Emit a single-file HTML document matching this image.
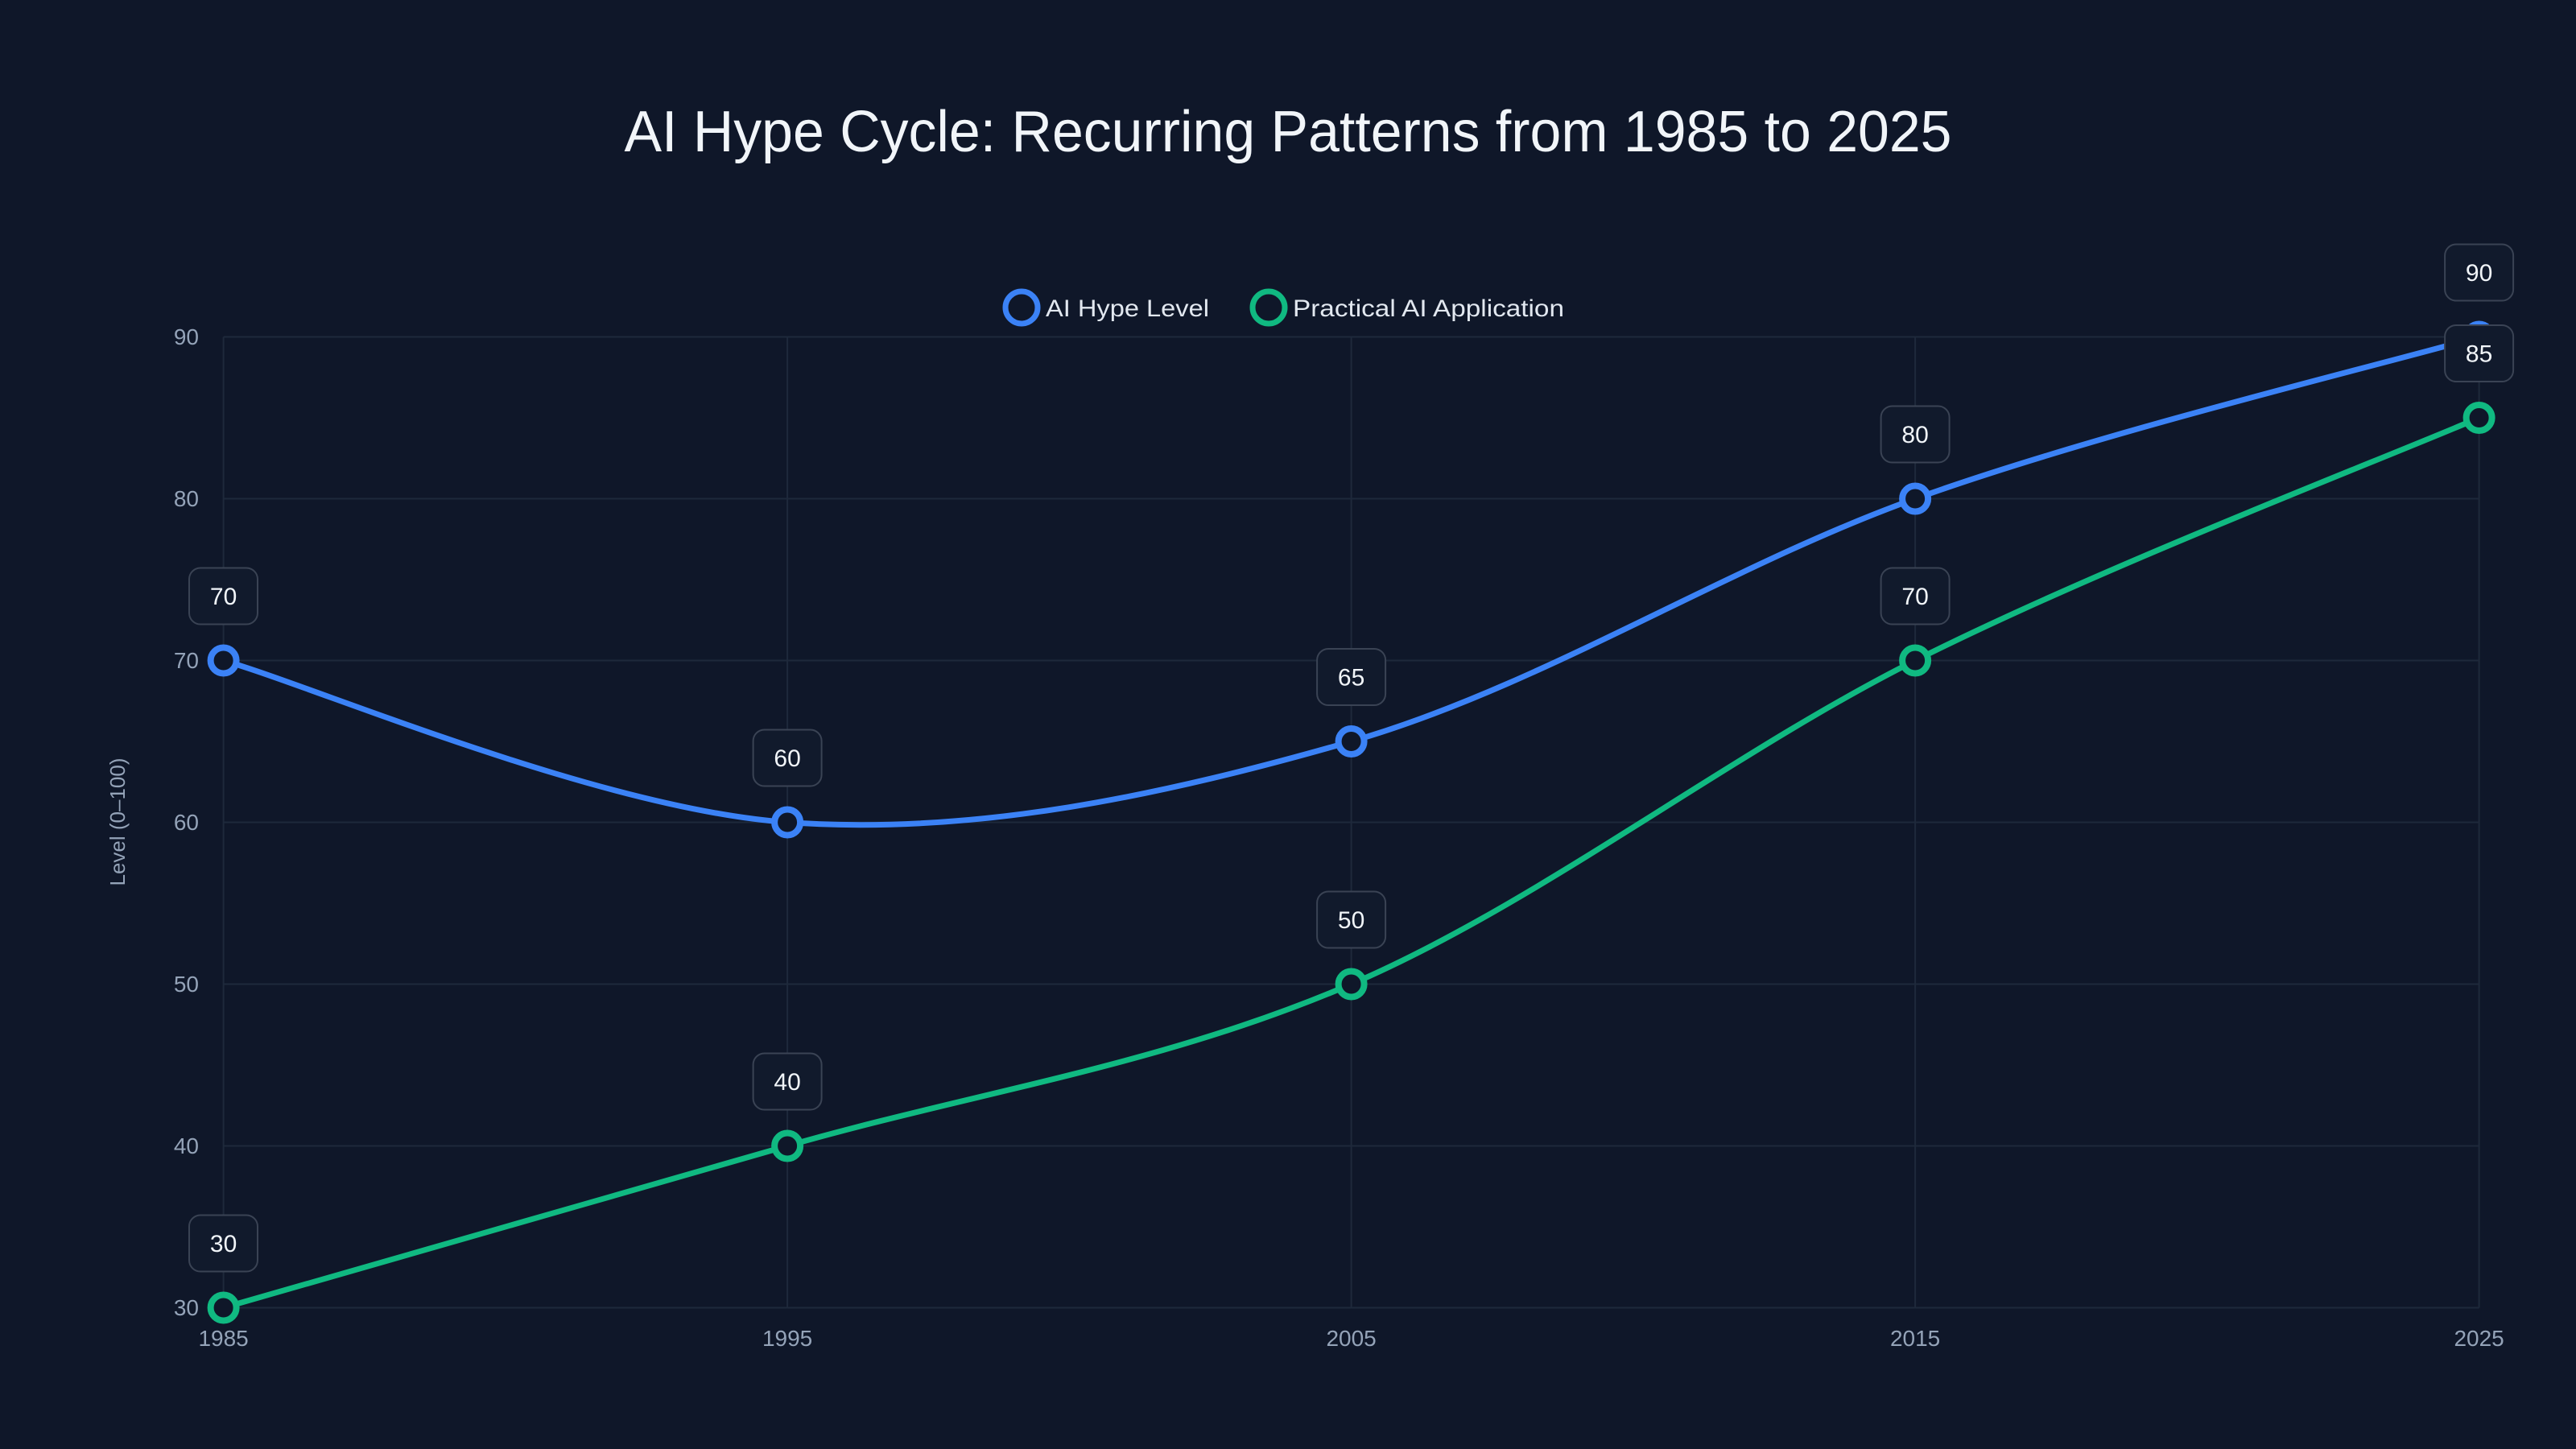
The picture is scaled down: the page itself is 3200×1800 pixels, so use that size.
<!DOCTYPE html>
<html><head><meta charset="utf-8"><style>
html,body{margin:0;padding:0;background:#0f172a;}
svg{display:block;font-family:"Liberation Sans",sans-serif;}
</style></head><body>
<svg width="3200" height="1800" viewBox="0 0 3200 1800" xmlns="http://www.w3.org/2000/svg">
<rect width="3200" height="1800" fill="#0f1729"/>
<text x="1600" y="188" text-anchor="middle" font-size="72" fill="#f1f5f9" textLength="1649" lengthAdjust="spacingAndGlyphs">AI Hype Cycle: Recurring Patterns from 1985 to 2025</text>
<g stroke="#1e293b" stroke-width="2">
<line x1="277.6" x2="3079.6" y1="418.5" y2="418.5"/>
<line x1="277.6" x2="3079.6" y1="619.5" y2="619.5"/>
<line x1="277.6" x2="3079.6" y1="820.5" y2="820.5"/>
<line x1="277.6" x2="3079.6" y1="1021.5" y2="1021.5"/>
<line x1="277.6" x2="3079.6" y1="1222.5" y2="1222.5"/>
<line x1="277.6" x2="3079.6" y1="1423.5" y2="1423.5"/>
<line x1="277.6" x2="3079.6" y1="1624.5" y2="1624.5"/>
<line x1="277.6" x2="277.6" y1="418.5" y2="1624.5"/>
<line x1="978.1" x2="978.1" y1="418.5" y2="1624.5"/>
<line x1="1678.6" x2="1678.6" y1="418.5" y2="1624.5"/>
<line x1="2379.1" x2="2379.1" y1="418.5" y2="1624.5"/>
<line x1="3079.6" x2="3079.6" y1="418.5" y2="1624.5"/>
</g>
<g font-size="28" fill="#94a3b8" text-anchor="end">
<text x="247" y="428">90</text><text x="247" y="629">80</text><text x="247" y="830">70</text>
<text x="247" y="1031">60</text><text x="247" y="1232">50</text><text x="247" y="1433">40</text><text x="247" y="1634">30</text>
</g>
<g font-size="28" fill="#94a3b8" text-anchor="middle">
<text x="277.6" y="1672">1985</text><text x="978.1" y="1672">1995</text><text x="1678.6" y="1672">2005</text>
<text x="2379.1" y="1672">2015</text><text x="3079.6" y="1672">2025</text>
</g>
<text transform="translate(155,1021) rotate(-90)" text-anchor="middle" font-size="26" fill="#94a3b8">Level (0–100)</text>
<!-- legend -->
<circle cx="1269" cy="382" r="20" fill="none" stroke="#3b82f6" stroke-width="7"/>
<text x="1299" y="393" font-size="30" fill="#e2e8f0" textLength="203" lengthAdjust="spacingAndGlyphs">AI Hype Level</text>
<circle cx="1576" cy="382" r="20" fill="none" stroke="#10b981" stroke-width="7"/>
<text x="1606" y="393" font-size="30" fill="#e2e8f0" textLength="337" lengthAdjust="spacingAndGlyphs">Practical AI Application</text>
<!-- lines -->
<path d="M277.6,820.5 C394.35,854 744.6,1004.75 978.1,1021.5 C1211.6,1038.25 1445.1,988 1678.6,921 C1912.1,854 2145.6,703.25 2379.1,619.5 C2612.6,535.75 2962.85,452 3079.6,418.5" fill="none" stroke="#3b82f6" stroke-width="7"/>
<path d="M277.6,1624.5 C394.35,1591 744.6,1490.5 978.1,1423.5 C1211.6,1356.5 1445.1,1323 1678.6,1222.5 C1912.1,1122 2145.6,937.75 2379.1,820.5 C2612.6,703.25 2962.85,569.25 3079.6,519" fill="none" stroke="#10b981" stroke-width="7"/>
<g fill="#0f1729" stroke-width="8">
<g stroke="#3b82f6">
<circle cx="277.6" cy="820.5" r="16"/><circle cx="978.1" cy="1021.5" r="16"/><circle cx="1678.6" cy="921" r="16"/><circle cx="2379.1" cy="619.5" r="16"/><circle cx="3079.6" cy="418.5" r="16"/>
</g>
<g stroke="#10b981">
<circle cx="277.6" cy="1624.5" r="16"/><circle cx="978.1" cy="1423.5" r="16"/><circle cx="1678.6" cy="1222.5" r="16"/><circle cx="2379.1" cy="820.5" r="16"/><circle cx="3079.6" cy="519" r="16"/>
</g>
</g>
<!-- value labels -->
<g fill="#111a2c" stroke="#3a4354" stroke-width="2">
<rect x="235" y="705.5" width="85" height="70" rx="14"/>
<rect x="935.6" y="906.5" width="85" height="70" rx="14"/>
<rect x="1636.1" y="806" width="85" height="70" rx="14"/>
<rect x="2336.6" y="504.5" width="85" height="70" rx="14"/>
<rect x="3037.1" y="303.5" width="85" height="70" rx="14"/>
<rect x="235" y="1509.5" width="85" height="70" rx="14"/>
<rect x="935.6" y="1308.5" width="85" height="70" rx="14"/>
<rect x="1636.1" y="1107.5" width="85" height="70" rx="14"/>
<rect x="2336.6" y="705.5" width="85" height="70" rx="14"/>
<rect x="3037.1" y="404" width="85" height="70" rx="14"/>
</g>
<g font-size="30" fill="#f1f5f9" text-anchor="middle">
<text x="277.6" y="751">70</text><text x="978.1" y="952">60</text><text x="1678.6" y="851.5">65</text>
<text x="2379.1" y="550">80</text><text x="3079.6" y="349">90</text>
<text x="277.6" y="1555">30</text><text x="978.1" y="1354">40</text><text x="1678.6" y="1153">50</text>
<text x="2379.1" y="751">70</text><text x="3079.6" y="449.5">85</text>
</g>
</svg>
</body></html>
